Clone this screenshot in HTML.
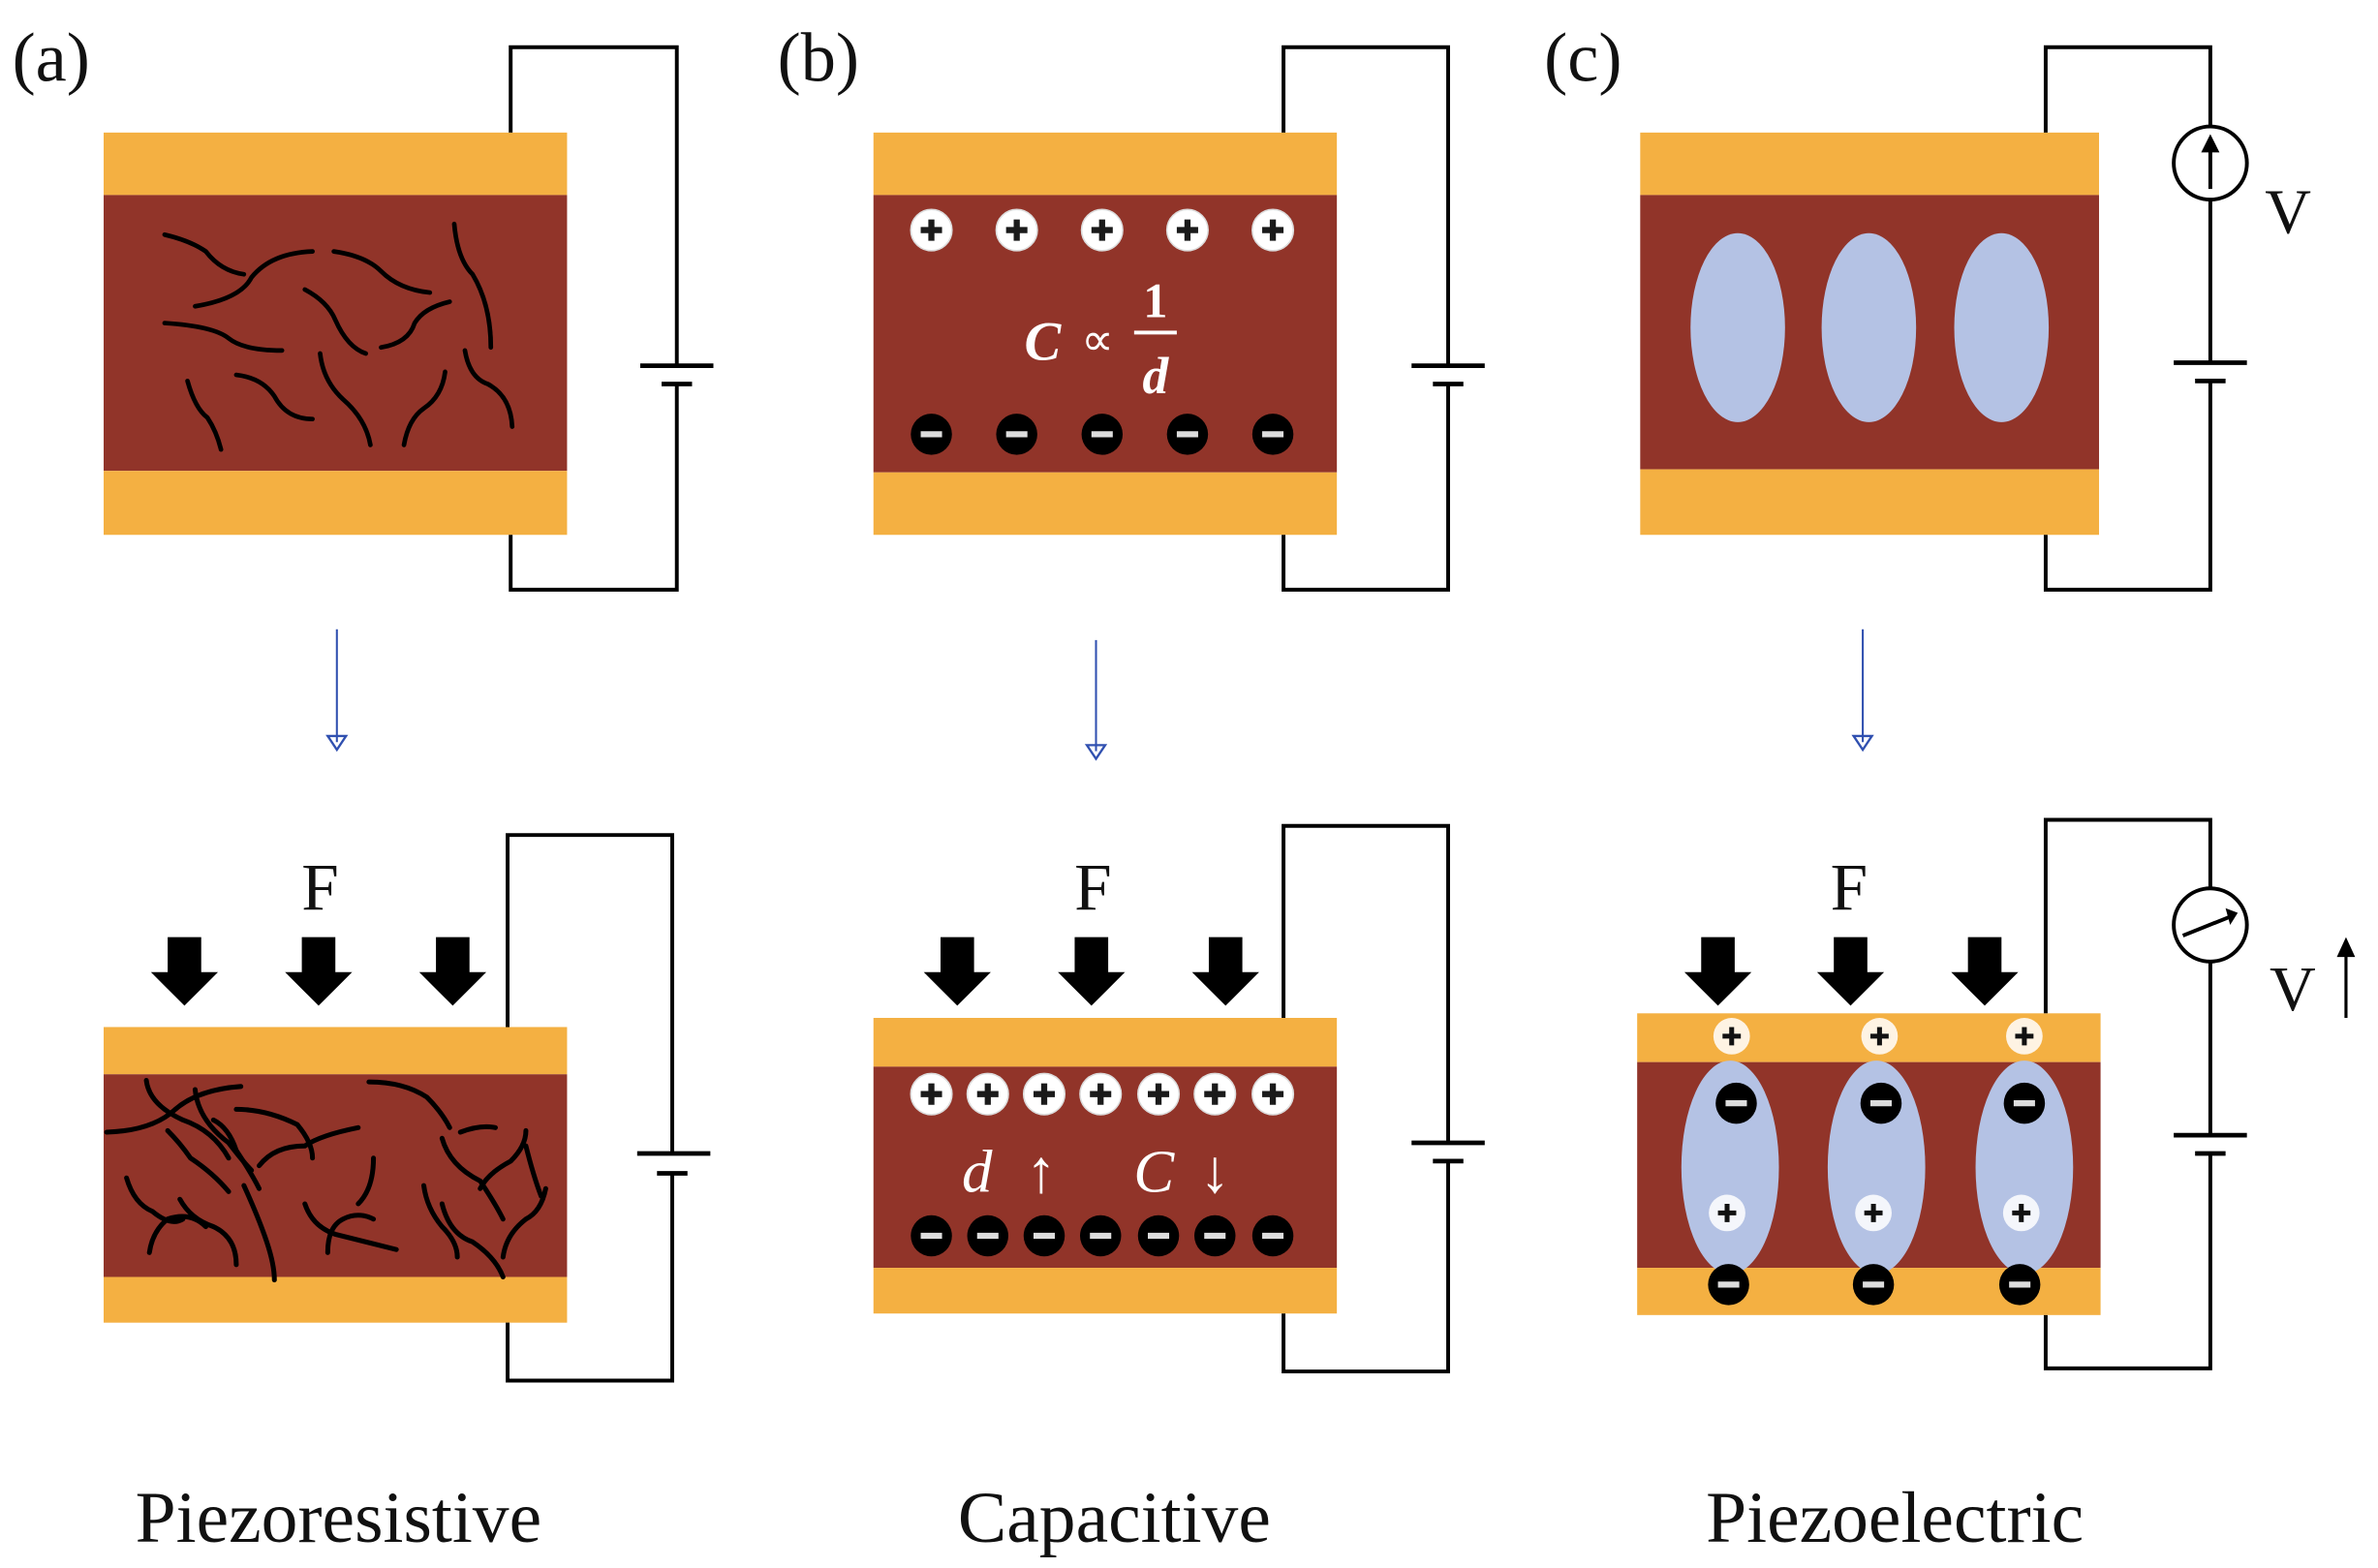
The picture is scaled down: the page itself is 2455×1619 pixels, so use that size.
<!DOCTYPE html>
<html><head><meta charset="utf-8"><style>html,body{margin:0;padding:0;background:#fff}svg{display:block}</style></head>
<body>
<svg width="2455" height="1619" viewBox="0 0 1560 1029" preserveAspectRatio="none" xmlns="http://www.w3.org/2000/svg" font-family="Liberation Serif, serif">
<defs>
<g id="pl"><circle r="13.5" fill="#fff" stroke="#ddd" stroke-width="1"/><path d="M-7 0H7M0 -7V7" stroke="#1a1a1a" stroke-width="4"/></g>
<g id="mi"><circle r="13.5" fill="#000"/><path d="M-7 0H7" stroke="#ddd" stroke-width="4"/></g>
<g id="pw"><circle r="12" fill="#fff" opacity="0.85"/><path d="M-6 0H6M0 -6V6" stroke="#111" stroke-width="3.2"/></g>
<g id="fa"><path d="M-11 -45H11V-22H22L0 0L-22 -22H-11Z" fill="#000"/></g>
</defs>
<g font-size="46" fill="#111">
<text x="8" y="53">(a)</text><text x="510" y="53">(b)</text><text x="1013" y="53">(c)</text>
</g>
<!-- panel a top -->
<rect x="68" y="87" width="304" height="41" fill="#f4b042"/>
<rect x="68" y="128" width="304" height="181" fill="#913429"/>
<rect x="68" y="309" width="304" height="42" fill="#f4b042"/>
<g fill="none" stroke="#000" stroke-width="3" stroke-linecap="round">
<path d="M108 154Q125 158 135 165Q145 178 160 180"/>
<path d="M128 201Q158 196 165 182Q178 166 205 165"/>
<path d="M219 165Q240 168 250 178Q262 190 282 192"/>
<path d="M108 212Q140 214 150 222Q160 230 185 230"/>
<path d="M200 190Q215 198 220 210Q228 228 240 232"/>
<path d="M250 228Q268 225 272 212Q278 202 295 198"/>
<path d="M298 147Q300 170 310 180Q322 200 322 228"/>
<path d="M123 250Q128 268 136 274Q142 283 145 295"/>
<path d="M155 246Q172 248 180 260Q188 275 205 275"/>
<path d="M210 232Q212 250 225 262Q240 275 243 292"/>
<path d="M265 292Q268 275 278 268Q290 260 292 244"/>
<path d="M305 230Q308 248 320 252Q335 260 336 280"/>
</g>
<g fill="none" stroke="#000" stroke-width="2.5">
<path d="M335 87V31H444V240M444 252V387H335V351"/>
<path d="M420 240H468M434 252H454" stroke-width="3"/>
</g>
<path d="M221 413V487" stroke="#3050b0" stroke-width="1.3"/><path d="M215 483L221 492L227 483Z" fill="none" stroke="#3050b0" stroke-width="1.5"/>
<!-- panel a bottom -->
<text x="210" y="597" font-size="44" text-anchor="middle" fill="#111">F</text>
<use href="#fa" x="121" y="660"/><use href="#fa" x="209" y="660"/><use href="#fa" x="297" y="660"/>
<rect x="68" y="674" width="304" height="31" fill="#f4b042"/>
<rect x="68" y="705" width="304" height="133" fill="#913429"/>
<rect x="68" y="838" width="304" height="30" fill="#f4b042"/>
<g fill="none" stroke="#000" stroke-width="3.2" stroke-linecap="round">
<path d="M70 743Q100 742 115 728Q130 715 158 713"/>
<path d="M96 709Q98 725 120 735Q140 742 150 760"/>
<path d="M128 715Q130 735 150 750Q160 763 165 768"/>
<path d="M110 742Q118 750 125 760Q140 770 150 782"/>
<path d="M140 735Q150 740 155 755Q165 770 170 780"/>
<path d="M155 728Q175 728 195 738Q205 750 205 760"/>
<path d="M170 765Q180 752 200 752Q210 745 235 740"/>
<path d="M83 773Q88 790 100 795Q112 805 120 800"/>
<path d="M98 822Q100 808 110 800Q125 795 135 805"/>
<path d="M118 787Q125 800 140 805Q155 812 155 830"/>
<path d="M160 778Q170 800 175 815Q180 830 180 840"/>
<path d="M200 790Q205 805 220 810Q240 815 260 820"/>
<path d="M215 822Q215 805 225 800Q235 795 245 800"/>
<path d="M245 760Q245 780 235 790"/>
<path d="M242 710Q265 710 280 720Q290 730 295 740"/>
<path d="M278 778Q280 793 290 805Q300 815 300 825"/>
<path d="M290 747Q295 765 315 775Q325 790 330 800"/>
<path d="M302 743Q315 738 325 740"/>
<path d="M290 790Q295 810 310 815Q325 825 330 838"/>
<path d="M315 780Q320 770 335 762Q345 752 345 742"/>
<path d="M330 825Q332 810 345 800Q355 795 358 780"/>
<path d="M345 752Q350 772 355 785"/>
</g>
<g fill="none" stroke="#000" stroke-width="2.5">
<path d="M333 674V548H441V757M441 770V906H333V868"/>
<path d="M418 757H466M431 770H451" stroke-width="3"/>
</g>
<text x="222" y="1012" font-size="48" text-anchor="middle" fill="#111">Piezoresistive</text>
<!-- panel b top -->
<rect x="573" y="87" width="304" height="41" fill="#f4b042"/>
<rect x="573" y="128" width="304" height="182" fill="#913429"/>
<rect x="573" y="310" width="304" height="41" fill="#f4b042"/>
<use href="#pl" x="611" y="151"/><use href="#pl" x="667" y="151"/><use href="#pl" x="723" y="151"/><use href="#pl" x="779" y="151"/><use href="#pl" x="835" y="151"/>
<use href="#mi" x="611" y="285"/><use href="#mi" x="667" y="285"/><use href="#mi" x="723" y="285"/><use href="#mi" x="779" y="285"/><use href="#mi" x="835" y="285"/>
<g fill="#fff" font-weight="bold" font-style="italic">
<text x="684" y="236" font-size="36" text-anchor="middle">C</text>
<text x="720" y="233" font-size="30" font-style="normal" font-weight="normal" text-anchor="middle">∝</text>
<text x="758" y="208" font-size="32" font-style="normal" text-anchor="middle">1</text>
<rect x="744" y="217" width="28" height="2.5"/>
<text x="758" y="258" font-size="34" text-anchor="middle">d</text>
</g>
<g fill="none" stroke="#000" stroke-width="2.5">
<path d="M842 87V31H950V240M950 252V387H842V351"/>
<path d="M926 240H974M940 252H960" stroke-width="3"/>
</g>
<path d="M719 420V493" stroke="#3050b0" stroke-width="1.3"/><path d="M713 489L719 498L725 489Z" fill="none" stroke="#3050b0" stroke-width="1.5"/>
<!-- panel b bottom -->
<text x="717" y="597" font-size="44" text-anchor="middle" fill="#111">F</text>
<use href="#fa" x="628" y="660"/><use href="#fa" x="716" y="660"/><use href="#fa" x="804" y="660"/>
<rect x="573" y="668" width="304" height="32" fill="#f4b042"/>
<rect x="573" y="700" width="304" height="132" fill="#913429"/>
<rect x="573" y="832" width="304" height="30" fill="#f4b042"/>
<use href="#pl" x="611" y="718"/><use href="#pl" x="648" y="718"/><use href="#pl" x="685" y="718"/><use href="#pl" x="722" y="718"/><use href="#pl" x="760" y="718"/><use href="#pl" x="797" y="718"/><use href="#pl" x="835" y="718"/>
<use href="#mi" x="611" y="811"/><use href="#mi" x="648" y="811"/><use href="#mi" x="685" y="811"/><use href="#mi" x="722" y="811"/><use href="#mi" x="760" y="811"/><use href="#mi" x="797" y="811"/><use href="#mi" x="835" y="811"/>
<g fill="#fff" font-size="40" font-style="italic">
<text x="641" y="782" text-anchor="middle">d</text>
<text x="683" y="782" font-style="normal" text-anchor="middle">↑</text>
<text x="757" y="782" text-anchor="middle">C</text>
<text x="797" y="782" font-style="normal" text-anchor="middle">↓</text>
</g>
<g fill="none" stroke="#000" stroke-width="2.5">
<path d="M842 668V542H950V750M950 762V900H842V862"/>
<path d="M926 750H974M940 762H960" stroke-width="3"/>
</g>
<text x="731" y="1012" font-size="48" text-anchor="middle" fill="#111">Capacitive</text>
<!-- panel c top -->
<rect x="1076" y="87" width="301" height="41" fill="#f4b042"/>
<rect x="1076" y="128" width="301" height="180" fill="#913429"/>
<rect x="1076" y="308" width="301" height="43" fill="#f4b042"/>
<ellipse cx="1140" cy="215" rx="31" ry="62" fill="#b4c2e4"/>
<ellipse cx="1226" cy="215" rx="31" ry="62" fill="#b4c2e4"/>
<ellipse cx="1313" cy="215" rx="31" ry="62" fill="#b4c2e4"/>
<g fill="none" stroke="#000" stroke-width="2.5">
<path d="M1342 87V31H1450V83M1450 131V238M1450 250V387H1342V351"/>
<circle cx="1450" cy="107" r="24"/>
<path d="M1450 124V98"/>
<path d="M1426 238H1474M1440 250H1460" stroke-width="3"/>
</g>
<path d="M1444 100L1450 88L1456 100Z" fill="#000"/>
<text x="1501" y="153" font-size="42" text-anchor="middle" fill="#111">V</text>
<path d="M1222 413V487" stroke="#3050b0" stroke-width="1.3"/><path d="M1216 483L1222 492L1228 483Z" fill="none" stroke="#3050b0" stroke-width="1.5"/>
<!-- panel c bottom -->
<text x="1213" y="597" font-size="44" text-anchor="middle" fill="#111">F</text>
<use href="#fa" x="1127" y="660"/><use href="#fa" x="1214" y="660"/><use href="#fa" x="1302" y="660"/>
<rect x="1074" y="665" width="304" height="32" fill="#f4b042"/>
<rect x="1074" y="697" width="304" height="135" fill="#913429"/>
<rect x="1074" y="832" width="304" height="31" fill="#f4b042"/>
<ellipse cx="1135" cy="766" rx="32" ry="70" fill="#b4c2e4"/>
<ellipse cx="1231" cy="766" rx="32" ry="70" fill="#b4c2e4"/>
<ellipse cx="1328" cy="766" rx="32" ry="70" fill="#b4c2e4"/>
<use href="#pw" x="1136" y="680"/><use href="#pw" x="1233" y="680"/><use href="#pw" x="1328" y="680"/>
<use href="#mi" x="1139" y="724"/><use href="#mi" x="1234" y="724"/><use href="#mi" x="1328" y="724"/>
<use href="#pw" x="1133" y="796"/><use href="#pw" x="1229" y="796"/><use href="#pw" x="1326" y="796"/>
<use href="#mi" x="1134" y="843"/><use href="#mi" x="1229" y="843"/><use href="#mi" x="1325" y="843"/>
<g fill="none" stroke="#000" stroke-width="2.5">
<path d="M1342 665V538H1450V583M1450 631V745M1450 757V898H1342V863"/>
<circle cx="1450" cy="607" r="24"/>
<path d="M1432 614L1462 602"/>
<path d="M1426 745H1474M1440 757H1460" stroke-width="3"/>
<path d="M1539 668V625" stroke-width="2"/>
</g>
<path d="M1460 596L1468 599L1463 607Z" fill="#000"/>
<path d="M1533 628L1539 615L1545 628Z" fill="#000"/>
<text x="1504" y="663" font-size="42" text-anchor="middle" fill="#111">V</text>
<text x="1243" y="1012" font-size="48" text-anchor="middle" fill="#111">Piezoelectric</text>
</svg>
</body></html>
